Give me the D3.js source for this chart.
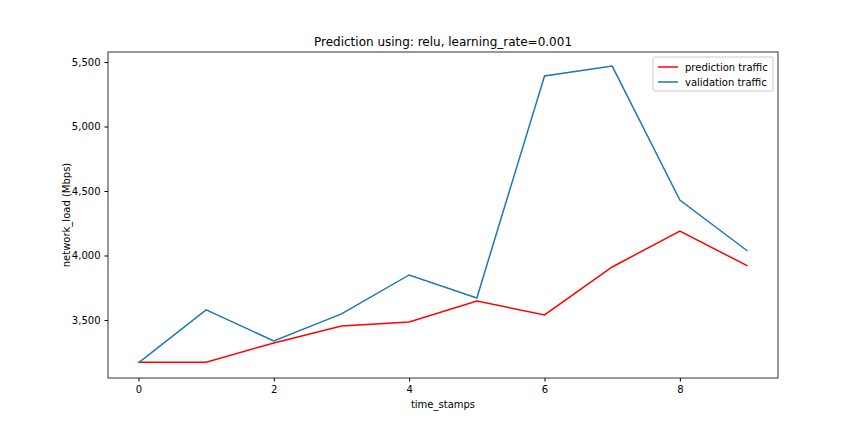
<!DOCTYPE html>
<html><head><meta charset="utf-8">
<script src="https://cdn.jsdelivr.net/npm/d3@7"></script>
<style>body{margin:0;background:#fff;font-family:"DejaVu Sans",sans-serif;}</style>
</head><body><div id="chart"></div>
<script>
// chart values
var timeStamps = [0, 1, 2, 3, 4, 5, 6, 7, 8, 9];
var prediction = [3172, 3172, 3322, 3453, 3484, 3647, 3539, 3911, 4190, 3919];
var validation = [3167, 3578, 3338, 3547, 3849, 3671, 5392, 5469, 4430, 4035];
var xTicks = [0, 2, 4, 6, 8];
var yTicks = [3500, 4000, 4500, 5000, 5500];

var W = 864, H = 432;
var m = {left: 108, right: 86, top: 52, bottom: 54};

var svg = d3.select('#chart').append('svg').attr('width', W).attr('height', H);

var x = d3.scaleLinear().domain([-0.45, 9.45]).range([m.left, W - m.right]);
var y = d3.scaleLinear().domain([3050, 5578]).range([H - m.bottom, m.top]);

var xAxis = svg.append('g').attr('transform', 'translate(0,' + (H - m.bottom) + ')')
	.call(d3.axisBottom(x).tickValues(xTicks).tickSize(3.5).tickPadding(4));
var yAxis = svg.append('g').attr('transform', 'translate(' + m.left + ',0)')
	.call(d3.axisLeft(y).tickValues(yTicks).tickSize(3.5).tickPadding(4));
[xAxis, yAxis].forEach(function(a){
	a.selectAll('text').attr('font-size', 10).attr('fill', '#000').attr('font-family', 'DejaVu Sans');
	a.select('.domain').remove();
});

// frame
svg.append('rect').attr('x', m.left).attr('y', m.top)
	.attr('width', W - m.left - m.right).attr('height', H - m.top - m.bottom)
	.attr('fill', 'none').attr('stroke', '#000').attr('stroke-width', 0.8);

var line = function(vals){
	return d3.line().x(function(d, i){ return x(timeStamps[i]); }).y(function(d){ return y(d); })(vals);
};
svg.append('path').attr('d', line(prediction)).attr('fill', 'none').attr('stroke', 'red').attr('stroke-width', 1.5);
svg.append('path').attr('d', line(validation)).attr('fill', 'none').attr('stroke', '#1f77b4').attr('stroke-width', 1.5);

svg.append('text').attr('x', (m.left + W - m.right) / 2).attr('y', 46).attr('text-anchor', 'middle')
	.attr('font-size', 12).text('Prediction using: relu, learning_rate=0.001');
svg.append('text').attr('x', (m.left + W - m.right) / 2).attr('y', 408).attr('text-anchor', 'middle')
	.attr('font-size', 10).text('time_stamps');
svg.append('text').attr('transform', 'translate(70,' + ((m.top + H - m.bottom) / 2) + ') rotate(-90)')
	.attr('text-anchor', 'middle').attr('font-size', 10).text('network_load (Mbps)');

// legend
var lg = svg.append('g').attr('transform', 'translate(653,57)');
lg.append('rect').attr('width', 120).attr('height', 34).attr('rx', 2)
	.attr('fill', '#fff').attr('stroke', '#ccc');
[['prediction traffic', 'red'], ['validation traffic', '#1f77b4']].forEach(function(d, i){
	var yy = 10 + i * 15;
	lg.append('line').attr('x1', 5).attr('x2', 25).attr('y1', yy).attr('y2', yy)
		.attr('stroke', d[1]).attr('stroke-width', 1.5);
	lg.append('text').attr('x', 32).attr('y', yy + 3.5).attr('font-size', 10).text(d[0]);
});
</script></body></html>
